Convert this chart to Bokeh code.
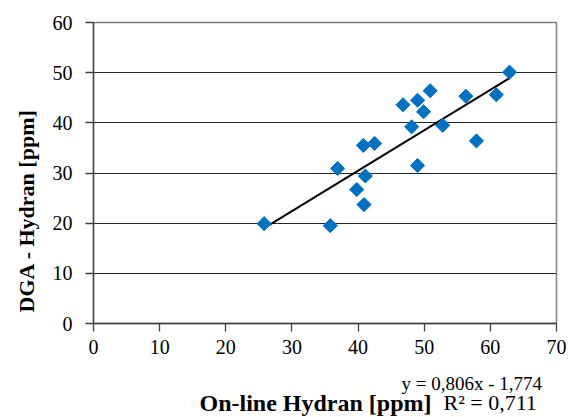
import math
from bokeh.plotting import figure
from bokeh.layouts import column
from bokeh.models import SingleIntervalTicker, Label, Range1d, Title
from bokeh.embed import file_html
from bokeh.resources import INLINE

# Data
online_hydran = [25.8, 35.8, 36.9, 39.8, 40.9, 41.1, 40.8, 42.5, 46.8, 48.1,
                 49.0, 49.9, 50.9, 49.0, 52.8, 56.3, 57.9, 60.9, 62.9]
dga_hydran = [19.9, 19.5, 30.9, 26.7, 23.7, 29.4, 35.5, 35.9, 43.6, 39.2,
              44.5, 42.2, 46.4, 31.5, 39.5, 45.3, 36.4, 45.6, 50.1]
slope = 0.806
intercept = -1.774
r_squared = 0.711

x_label = "On-line Hydran [ppm]"
y_label = "DGA - Hydran [ppm]"
eq_text = "y = 0,806x - 1,774"
r2_text = "R² = 0,711"

FONT = "Liberation Serif"

p = figure(width=571, height=363, output_backend="svg", toolbar_location=None,
           x_range=Range1d(0, 70), y_range=Range1d(0, 60),
           min_border_left=92, min_border_right=15, min_border_top=22,
           min_border_bottom=40)
p.background_fill_color = "white"
p.border_fill_color = "white"
p.outline_line_color = "#808080"
p.outline_line_width = 1.5

p.xgrid.visible = False
p.ygrid.grid_line_color = "#262626"
p.ygrid.grid_line_width = 1.2

for ax in (p.xaxis[0], p.yaxis[0]):
    ax.ticker = SingleIntervalTicker(interval=10)
    ax.minor_tick_line_color = None
    ax.major_tick_in = 0
    ax.major_tick_out = 8
    ax.axis_line_color = "#404040"
    ax.major_tick_line_color = "#404040"
    ax.axis_line_width = 1.3
    ax.major_tick_line_width = 1.3
    ax.major_label_text_font = FONT
    ax.major_label_text_font_size = "20px"
    ax.major_label_text_color = "black"
p.xaxis.major_label_standoff = 8
p.yaxis.major_label_standoff = 13

p.add_layout(Title(text=y_label, align="left", offset=11, standoff=22,
                   text_font=FONT, text_font_style="bold",
                   text_font_size="22px", text_color="black"), "left")

# trendline
xs = [min(online_hydran), max(online_hydran)]
ys = [slope * v + intercept for v in xs]
p.line(xs, ys, line_color="black", line_width=2)

p.scatter(online_hydran, dga_hydran, marker="square", angle=math.pi / 4,
          size=10, fill_color="#0070C0", line_color="#0070C0")

# text strip below the chart
p2 = figure(width=571, height=54, output_backend="svg", toolbar_location=None,
            x_range=Range1d(0, 1), y_range=Range1d(0, 1),
            x_axis_type=None, y_axis_type=None,
            min_border_left=92, min_border_right=15, min_border_top=30,
            min_border_bottom=0)
p2.outline_line_color = None
p2.xgrid.visible = False
p2.ygrid.visible = False

p2.add_layout(Title(text=eq_text, align="left", offset=308, standoff=0,
                    vertical_align="bottom",
                    text_font=FONT, text_font_style="normal",
                    text_font_size="19px", text_color="black"), "above")


def canvas_label(x, y, text, align, size, bold=False):
    return Label(x=x, y=y, x_units="canvas", y_units="canvas", text=text,
                 text_align=align, text_baseline="middle",
                 text_font=FONT, text_font_style="bold" if bold else "normal",
                 text_font_size=size, text_color="black")


p2.add_layout(canvas_label(315, 39, x_label, "center", "24px", bold=True))
p2.add_layout(canvas_label(443, 39, r2_text, "left", "22px"))

layout = column(p, p2, spacing=0)
open("out.html", "w").write(file_html(layout, INLINE))
